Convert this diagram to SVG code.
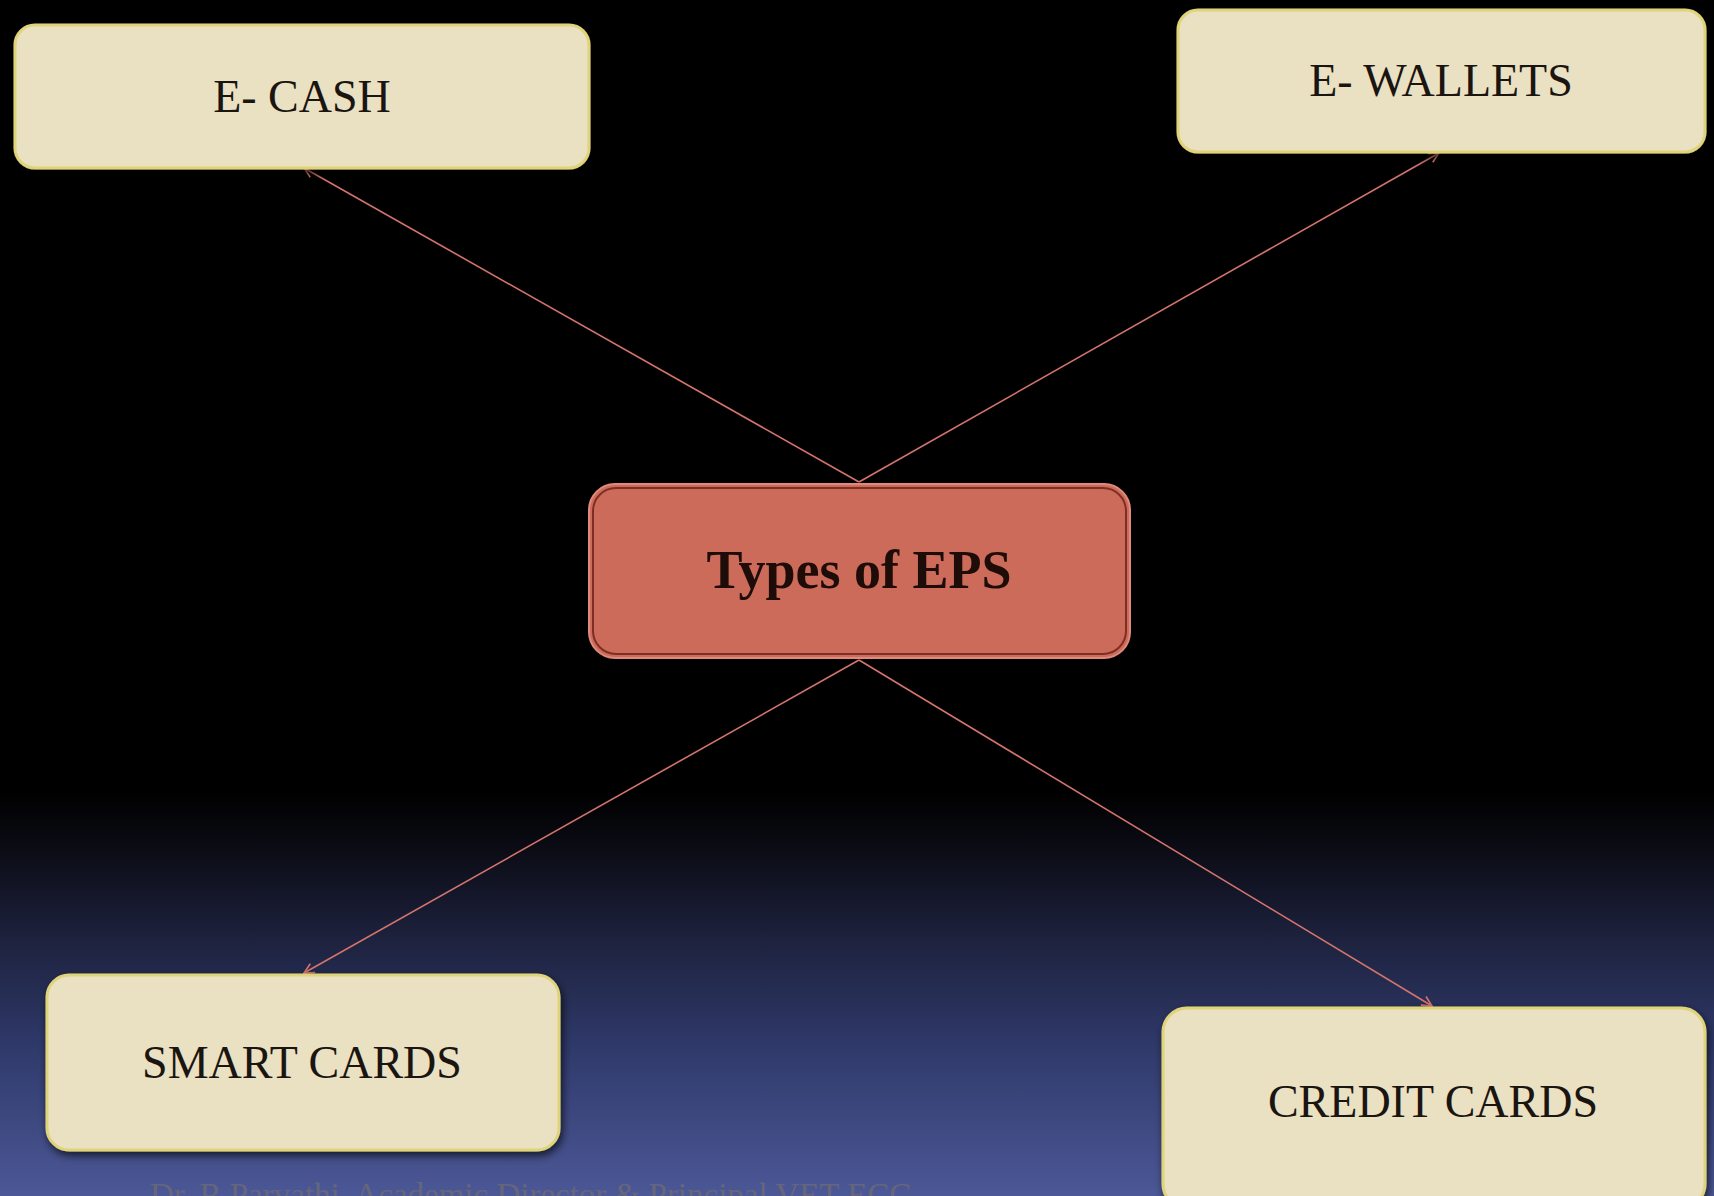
<svg xmlns="http://www.w3.org/2000/svg" width="1714" height="1196" viewBox="0 0 1714 1196">
<defs>
<linearGradient id="bg" x1="0" y1="0" x2="0" y2="1">
<stop offset="0" stop-color="#000000"/>
<stop offset="0.66" stop-color="#000000"/>
<stop offset="0.71" stop-color="#0b0c15"/>
<stop offset="0.79" stop-color="#1e2340"/>
<stop offset="0.87" stop-color="#2e3868"/>
<stop offset="1" stop-color="#4c5897"/>
</linearGradient>
<filter id="sh" x="-10%" y="-20%" width="120%" height="140%">
<feGaussianBlur in="SourceAlpha" stdDeviation="4"/>
<feOffset dx="2" dy="4" result="b"/>
<feComponentTransfer><feFuncA type="linear" slope="0.7"/></feComponentTransfer>
<feMerge><feMergeNode/><feMergeNode in="SourceGraphic"/></feMerge>
</filter>
<marker id="ah" viewBox="0 0 12 12" refX="11" refY="6" markerWidth="12" markerHeight="12" markerUnits="userSpaceOnUse" orient="auto">
<path d="M1,1 L11,6 L1,11" fill="none" stroke="#d4746c" stroke-width="1.6"/>
</marker>
</defs>
<style>
.box{fill:#eae0c2;stroke:#e0d47a;stroke-width:3;filter:url(#sh)}
.lbl{font-family:"Liberation Serif","DejaVu Serif",serif;font-size:46px;fill:#1a1510;text-anchor:middle}
.conn{stroke:#d4746c;stroke-width:1.6;fill:none;marker-end:url(#ah)}
</style>
<rect x="0" y="0" width="1714" height="1196" fill="url(#bg)"/>
<text x="150" y="1206" font-family="'Liberation Serif','DejaVu Serif',serif" font-size="33" fill="#66667a">Dr. R Parvathi, Academic Director &amp; Principal VET ECC</text>
<g id="connectors">
<line class="conn" x1="859" y1="482" x2="304" y2="168"/>
<line class="conn" x1="859" y1="482" x2="1439" y2="153"/>
<line class="conn" x1="859" y1="660" x2="304" y2="973"/>
<line class="conn" x1="859" y1="660" x2="1432" y2="1006"/>
</g>
<g id="ecash">
<rect class="box" x="15" y="25" width="574" height="143" rx="20"/>
<text class="lbl" x="302" y="112">E- CASH</text>
</g>
<g id="ewallets">
<rect class="box" x="1178" y="10" width="527" height="142" rx="20"/>
<text class="lbl" x="1441" y="96">E- WALLETS</text>
</g>
<g id="center">
<rect x="589" y="484" width="541" height="174" rx="26" fill="#cd6b5a" stroke="#e08a7c" stroke-width="2"/>
<rect x="593" y="488" width="533" height="166" rx="23" fill="none" stroke="#7e2e24" stroke-width="2"/>
<text x="859" y="588" font-family="'Liberation Serif','DejaVu Serif',serif" font-size="54" font-weight="bold" fill="#1e0c08" text-anchor="middle">Types of EPS</text>
</g>
<g id="smartcards">
<rect class="box" x="47" y="975" width="512" height="175" rx="22"/>
<text class="lbl" x="302" y="1078">SMART CARDS</text>
</g>
<g id="creditcards">
<rect class="box" x="1163" y="1008" width="542" height="200" rx="24"/>
<text class="lbl" x="1433" y="1117">CREDIT CARDS</text>
</g>
</svg>
